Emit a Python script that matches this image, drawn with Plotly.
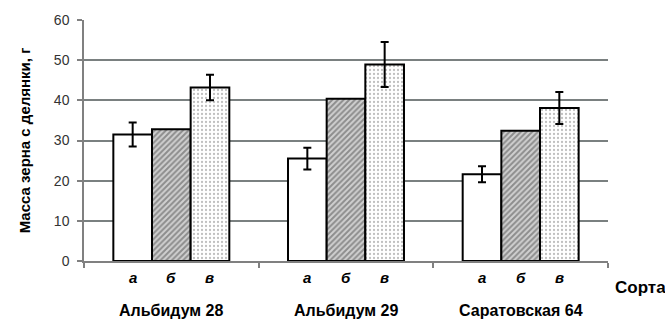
import plotly.graph_objects as go

# Сорта и варианты опыта
varieties = ["Альбидум 28", "Альбидум 29", "Саратовская 64"]
variants = ["а", "б", "в"]

# Масса зерна с делянки, г
mass_a = [31.5, 25.5, 21.6]
mass_b = [32.8, 40.4, 32.4]
mass_v = [43.2, 48.9, 38.1]

# Доверительные интервалы
err_a = [3.0, 2.7, 2.0]
err_v = [3.2, 5.6, 4.0]

FONT = "Liberation Sans, Arial, sans-serif"
BAR_GAP = 0.336
x_pos = list(range(len(varieties)))

fig = go.Figure()

styles = [
    None,
    dict(shape="/", fgcolor="#4a4a4a", bgcolor="#d0d0d0", size=4, solidity=0.5),
    dict(shape=".", fgcolor="#808080", bgcolor="#ffffff", size=4, solidity=0.25),
]
series = [(mass_a, err_a), (mass_b, None), (mass_v, err_v)]

for (vals, errs), pattern, name in zip(series, styles, variants):
    marker = dict(color="white", line=dict(color="black", width=2))
    if pattern is not None:
        marker["pattern"] = pattern
    kw = {}
    if errs is not None:
        kw["error_y"] = dict(type="data", array=errs, visible=True,
                             color="black", thickness=2, width=4)
    fig.add_trace(go.Bar(x=x_pos, y=vals, name=name, marker=marker,
                         showlegend=False, **kw))

# Подписи вариантов под столбцами и названия сортов
bar_w = (1 - BAR_GAP) / len(variants)
annotations = []
for g in x_pos:
    for k, lab in enumerate(variants):
        annotations.append(dict(
            x=g + (k - 1) * bar_w, y=0, xref="x", yref="y",
            text=f"<b><i>{lab}</i></b>", showarrow=False,
            yshift=-16, font=dict(family=FONT, size=15, color="black"),
        ))
    annotations.append(dict(
        x=g, y=0, xref="x", yref="y", text=f"<b>{varieties[g]}</b>",
        showarrow=False, yshift=-49, font=dict(family=FONT, size=16, color="black"),
    ))
annotations.append(dict(
    x=1, y=0, xref="paper", yref="y", text="<b>Сорта</b>", showarrow=False,
    xanchor="left", xshift=5, yshift=-26,
    font=dict(family=FONT, size=17, color="black"),
))

fig.update_layout(
    width=665, height=329,
    margin=dict(l=84, r=57, t=18, b=68),
    paper_bgcolor="white", plot_bgcolor="white",
    barmode="group", bargap=BAR_GAP, bargroupgap=0,
    annotations=annotations,
    font=dict(family=FONT, color="#333333"),
    xaxis=dict(
        range=[-0.5, 2.5], tickmode="array", tickvals=[-0.5, 0.5, 1.5, 2.5],
        showticklabels=False, ticks="outside", ticklen=5, tickcolor="#808080",
        tickwidth=1.5, showline=True, linecolor="#808080", linewidth=1.5,
        showgrid=False, zeroline=False,
    ),
    yaxis=dict(
        range=[0, 60], tickmode="array", tickvals=[0, 10, 20, 30, 40, 50, 60],
        ticks="outside", ticklen=5, tickcolor="#808080", tickwidth=1.5,
        ticklabelstandoff=5,
        showline=True, linecolor="#808080", linewidth=1.5,
        showgrid=True, gridcolor="#7a8080", gridwidth=1.5, zeroline=False,
        tickfont=dict(family=FONT, size=14, color="#333333"),
        title=dict(text="<b>Масса зерна с делянки, г</b>", standoff=20,
                   font=dict(family=FONT, size=15, color="black")),
    ),
)

fig.write_html("out.html")
